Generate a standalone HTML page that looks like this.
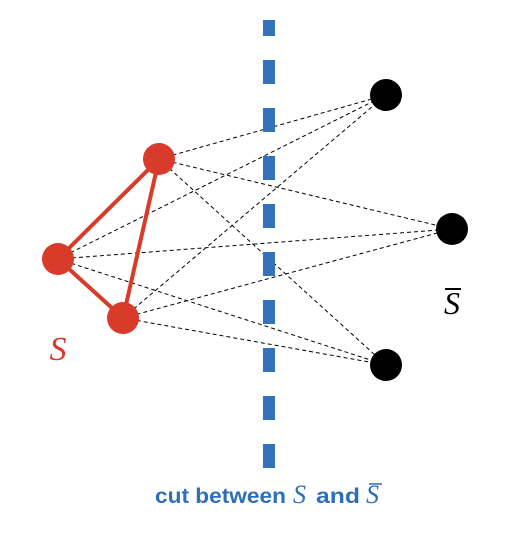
<!DOCTYPE html>
<html><head><style>body{margin:0;background:#fff}</style></head><body>
<svg width="506" height="550" xmlns="http://www.w3.org/2000/svg">
<g stroke="#000" stroke-width="1" stroke-dasharray="4,3">
<line x1="159" y1="159" x2="386" y2="95"/><line x1="159" y1="159" x2="452" y2="229"/><line x1="159" y1="159" x2="386" y2="365"/>
<line x1="58" y1="259" x2="386" y2="95"/><line x1="58" y1="259" x2="452" y2="229"/><line x1="58" y1="259" x2="386" y2="365"/>
<line x1="123" y1="318" x2="386" y2="95"/><line x1="123" y1="318" x2="452" y2="229"/><line x1="123" y1="318" x2="386" y2="365"/>
</g>
<g fill="#3473b8">
<rect x="263" y="20" width="12" height="16"/>
<rect x="263" y="60" width="12" height="24"/><rect x="263" y="108" width="12" height="24"/><rect x="263" y="156" width="12" height="24"/>
<rect x="263" y="204" width="12" height="24"/><rect x="263" y="252" width="12" height="24"/><rect x="263" y="300" width="12" height="24"/>
<rect x="263" y="348" width="12" height="24"/><rect x="263" y="396" width="12" height="24"/><rect x="263" y="444" width="12" height="24"/>
</g>
<polygon points="159,159 58,259 123,318" fill="none" stroke="#d93b2b" stroke-width="4" stroke-linejoin="round"/>
<g fill="#d93b2b"><circle cx="159" cy="159" r="16"/><circle cx="58" cy="259" r="16"/><circle cx="123" cy="318" r="16"/></g>
<g fill="#000"><circle cx="386" cy="95" r="16"/><circle cx="452" cy="229" r="16"/><circle cx="386" cy="365" r="16"/></g>
<text x="58" y="360" fill="#d93b2b" font-family="Liberation Serif, serif" font-style="italic" font-size="34" text-anchor="middle">S</text>
<text x="452" y="314" fill="#000" font-family="Liberation Serif, serif" font-style="italic" font-size="32" text-anchor="middle">S</text>
<line x1="445" y1="289" x2="461" y2="289" stroke="#000" stroke-width="2"/>
<g fill="#2f6fb5">
<text x="155" y="503" font-family="Liberation Sans, sans-serif" font-weight="bold" font-size="21" textLength="131" lengthAdjust="spacingAndGlyphs">cut between</text>
<text x="293" y="503" font-family="Liberation Serif, serif" font-style="italic" font-size="26">S</text>
<text x="316" y="503" font-family="Liberation Sans, sans-serif" font-weight="bold" font-size="21" textLength="44" lengthAdjust="spacingAndGlyphs">and</text>
<text x="366" y="503" font-family="Liberation Serif, serif" font-style="italic" font-size="26">S</text>
</g>
<line x1="369" y1="484" x2="382" y2="484" stroke="#2f6fb5" stroke-width="1.5"/>
</svg>
</body></html>
